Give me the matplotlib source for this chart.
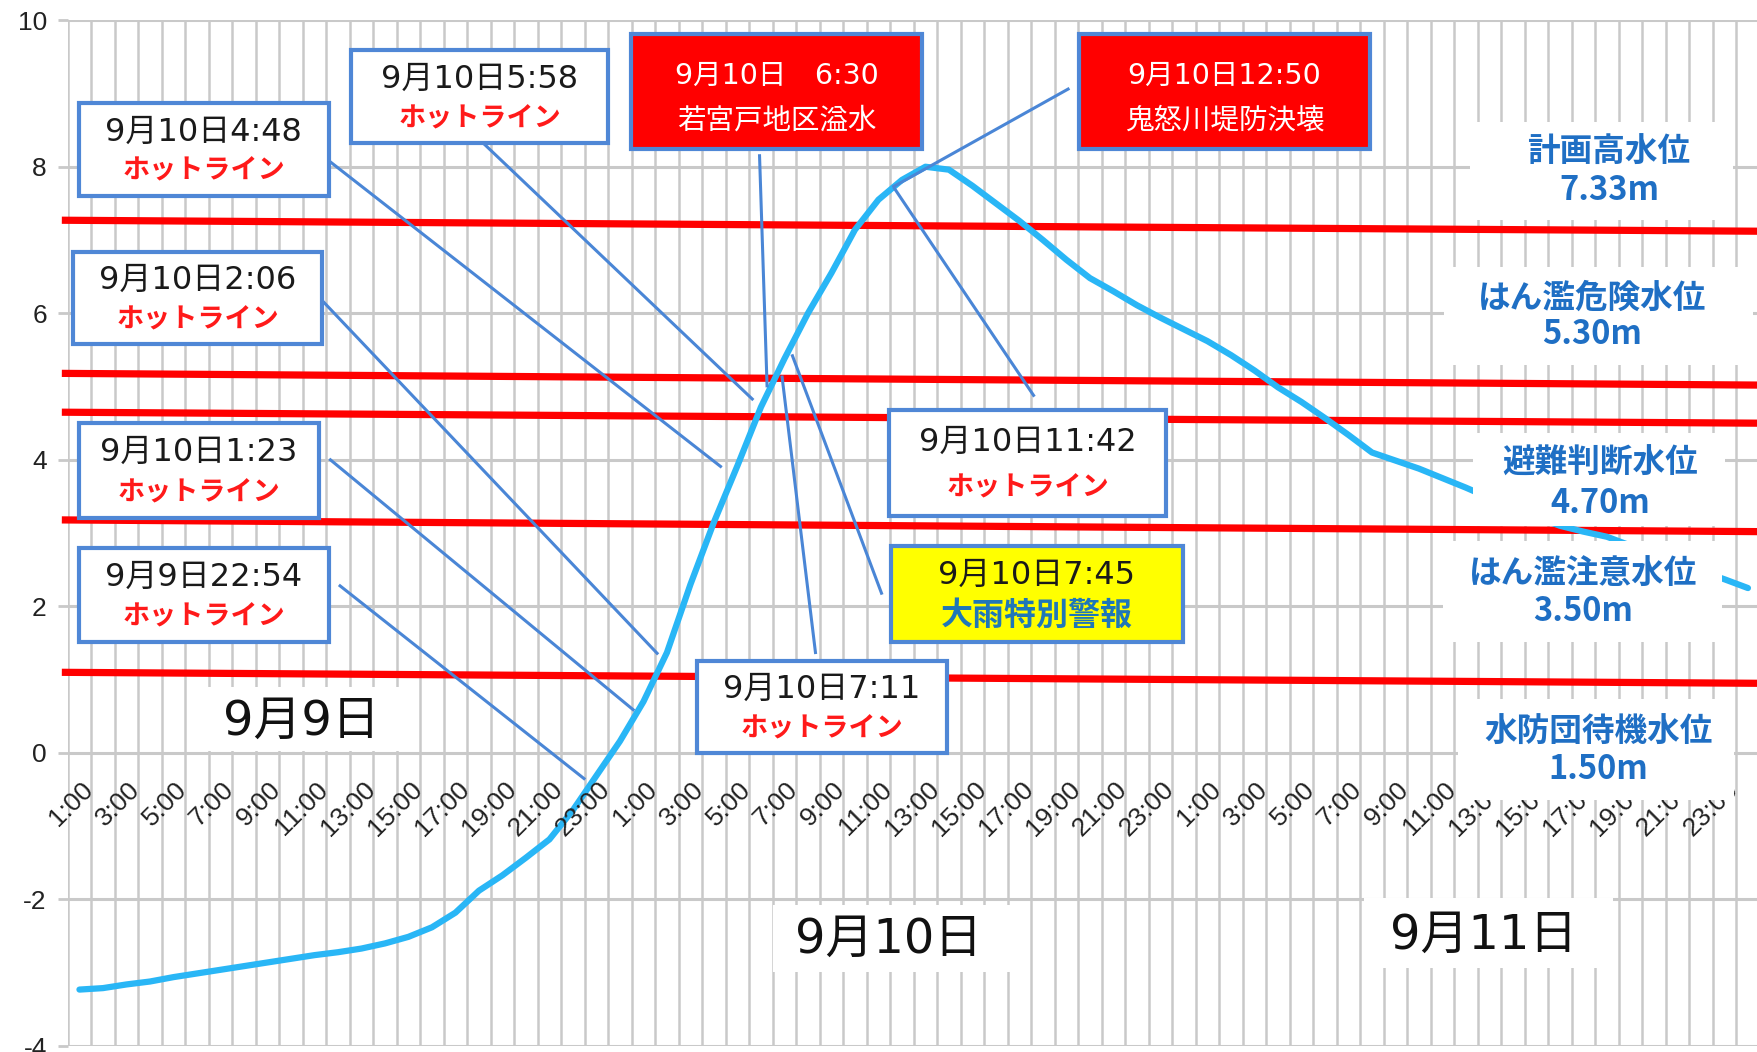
import numpy as np
import matplotlib
matplotlib.use("Agg")
import matplotlib.pyplot as plt
from matplotlib.patches import Rectangle

plt.rcParams['font.family'] = ['Noto Sans CJK JP', 'DejaVu Sans']

# ---------------- data ----------------
# hourly water level, 9/9 1:00 ... 9/11 24:00 (72 categories)
water_level = [
    -3.23, -3.21, -3.16, -3.12, -3.06, -3.01, -2.96, -2.91, -2.86, -2.81, -2.76, -2.72,
    -2.67, -2.60, -2.51, -2.38, -2.18, -1.88, -1.67, -1.43, -1.18, -0.78, -0.31, 0.16,
    0.70, 1.37, 2.30, 3.15, 3.92, 4.72, 5.38, 6.00, 6.55, 7.14, 7.55, 7.82,
    8.00, 7.96, 7.74, 7.50, 7.26, 7.00, 6.73, 6.48, 6.30, 6.11, 5.94, 5.78,
    5.62, 5.43, 5.22, 4.99, 4.79, 4.57, 4.34, 4.10, 3.99, 3.88, 3.75, 3.62,
    3.48, 3.35, 3.22, 3.10, 3.02, 2.95, 2.83, 2.71, 2.59, 2.48, 2.37, 2.25,
]
hour_tick_labels = ['1:00', '3:00', '5:00', '7:00', '9:00', '11:00',
                    '13:00', '15:00', '17:00', '19:00', '21:00', '23:00']
day_labels = ['9月9日', '9月10日', '9月11日']
y_ticks = [-4, -2, 0, 2, 4, 6, 8, 10]

# reference water levels (red lines, drawn slightly sloped as in the picture)
level_names = ['計画高水位', 'はん濫危険水位', '避難判断水位', 'はん濫注意水位', '水防団待機水位']
level_texts = ['7.33m', '5.30m', '4.70m', '3.50m', '1.50m']
level_line_start = [7.27, 5.18, 4.65, 3.18, 1.10]
level_line_end = [7.12, 5.02, 4.50, 3.02, 0.95]

# events
event_dates = ['9月10日4:48', '9月10日5:58', '9月10日2:06', '9月10日1:23', '9月9日22:54',
               '9月10日\u30006:30', '9月10日12:50', '9月10日11:42', '9月10日7:45', '9月10日7:11']
event_names = ['ホットライン', 'ホットライン', 'ホットライン', 'ホットライン', 'ホットライン',
               '若宮戸地区溢水', '鬼怒川堤防決壊', 'ホットライン', '大雨特別警報', 'ホットライン']
event_kind = ['hot', 'hot', 'hot', 'hot', 'hot', 'red', 'red', 'hot', 'yellow', 'hot']

# ---------------- layout (data coords) ----------------
box_pos = [(-0.04, 10.60, 8.87, 7.60), (11.56, 22.49, 9.59, 8.32), (-0.27, 10.32, 6.84, 5.58),
           (-0.04, 10.21, 4.50, 3.21), (-0.04, 10.60, 2.79, 1.52), (23.47, 35.85, 9.81, 8.24),
           (42.53, 54.92, 9.81, 8.24), (34.45, 46.24, 4.68, 3.24), (34.53, 46.96, 2.82, 1.52),
           (26.28, 36.92, 1.26, 0.0)]
leader_pos = [((10.62, 8.08), (27.28, 3.91)), ((17.09, 8.35), (28.63, 4.83)),
              ((10.34, 6.17), (24.58, 1.36)), ((10.68, 4.00), (23.56, 0.59)),
              ((11.09, 2.28), (21.47, -0.35)), ((28.94, 8.15), (29.26, 5.01)),
              ((42.07, 9.06), (34.65, 7.73)), ((40.60, 4.88), (34.69, 7.70)),
              ((34.13, 2.18), (30.34, 5.42)), ((31.32, 1.37), (29.90, 5.13))]
level_label_pos = [(65.09, 8.20, 7.68), (64.37, 6.21, 5.71), (64.71, 3.96, 3.40),
                   (63.99, 2.43, 1.93), (64.63, 0.28, -0.23)]
white_patches = [(59.17, 70.36, 7.27, 8.61), (58.07, 71.2, 5.30, 6.63), (59.3, 70.02, 3.10, 4.37),
                 (58.02, 69.9, 1.52, 2.89), (58.66, 70.4, -0.64, 0.74), (5.09, 13.68, 0.03, 0.90),
                 (29.52, 39.86, -2.99, -2.07), (54.66, 65.26, -2.93, -1.98)]
day_label_pos = [(9.43, 0.43), (34.41, -2.55), (59.77, -2.49)]

GRID = '#C9C9C9'
BOXEDGE = '#4F87D6'
LEADER = '#4A86D6'
CURVE = '#29B6F6'
LEVELBLUE = '#1F6FC4'

fig = plt.figure(figsize=(17.58, 10.52), dpi=100)
ax = fig.add_axes([67.7 / 1758, 6 / 1052, 1692 / 1758, 1025.8 / 1052])
ax.set_xlim(-0.5, 71.5)
ax.set_ylim(-4, 10)
for s in ax.spines.values():
    s.set_visible(False)
ax.set_xticks([])
ax.set_yticks(y_ticks)
ax.set_yticklabels([str(v) for v in y_ticks], family='Liberation Sans', fontsize=19, color='#222222')
ax.tick_params(axis='y', length=7, width=2, color=GRID, pad=8)

# grid
n = len(water_level)
ax.vlines(np.arange(-0.5, n + 0.5, 1), -4, 10, colors=GRID, lw=1.8, zorder=0.5)
for v in y_ticks:
    ax.axhline(v, color=GRID, lw=2.2, zorder=0.6)

# red level lines
for a, b in zip(level_line_start, level_line_end):
    ax.plot([-0.75, 71.5], [a, b], color='#FF0000', lw=5.2, solid_capstyle='butt',
            clip_on=False, zorder=2)

# water level curve
ax.plot(np.arange(n), water_level, color=CURVE, lw=4.5, zorder=3,
        solid_joinstyle='round', solid_capstyle='round')

# x tick labels
for d in range(3):
    for k, lab in enumerate(hour_tick_labels):
        i = d * 24 + 2 * k
        ax.text(i + 0.42, -0.45, lab, rotation=45, ha='right', va='center',
                rotation_mode='anchor', fontsize=19, family='Liberation Sans',
                color='#222222', zorder=3.5, clip_on=False)

# leader lines
for (p0, p1) in leader_pos:
    ax.plot([p0[0], p1[0]], [p0[1], p1[1]], color=LEADER, lw=2.2, zorder=4)

# white patches behind labels
for (x0, x1, y0, y1) in white_patches:
    ax.add_patch(Rectangle((x0, y0), x1 - x0, y1 - y0, facecolor='white',
                           edgecolor='none', zorder=5))

# day labels
for lab, (x, y) in zip(day_labels, day_label_pos):
    ax.text(x, y, lab, ha='center', va='center', fontsize=34.5,
            family=['DejaVu Sans', 'Noto Sans CJK JP'], color='#111111', zorder=7)

# level labels
for name, val, (x, y1, y2) in zip(level_names, level_texts, level_label_pos):
    ax.text(x, y1, name, ha='center', va='center', fontsize=23.5, fontweight='bold',
            family=['Noto Sans CJK JP'], color=LEVELBLUE, zorder=7)
    ax.text(x, y2, val, ha='center', va='center', fontsize=23.5, fontweight='bold',
            family=['Noto Sans CJK JP'], color=LEVELBLUE, zorder=7)

# event boxes
for date, name, kind, (x0, x1, yt, yb) in zip(event_dates, event_names, event_kind, box_pos):
    fill = {'hot': 'white', 'red': '#FF0000', 'yellow': '#FFFF00'}[kind]
    ax.add_patch(Rectangle((x0, yb), x1 - x0, yt - yb, facecolor=fill,
                           edgecolor=BOXEDGE, lw=3, zorder=6))
    cx = (x0 + x1) / 2
    h = yt - yb
    if kind == 'red':
        ax.text(cx, yt - 0.36 * h, date, ha='center', va='center', fontsize=20.5,
                family=['DejaVu Sans', 'Noto Sans CJK JP'], color='white', zorder=7)
        ax.text(cx, yt - 0.75 * h, name, ha='center', va='center', fontsize=20.5,
                color='white', zorder=7)
    else:
        ax.text(cx, yt - 0.31 * h, date, ha='center', va='center', fontsize=23,
                family=['DejaVu Sans', 'Noto Sans CJK JP'], color='#1A1A1A', zorder=7)
        if kind == 'yellow':
            ax.text(cx, yt - 0.73 * h, name, ha='center', va='center', fontsize=23,
                    fontweight='bold', color='#1F77B8', zorder=7)
        else:
            ax.text(cx, yt - 0.73 * h, name, ha='center', va='center', fontsize=19.5,
                    fontweight='bold', color='#FF1A1A', zorder=7)

fig.savefig('out.png', dpi=100)
